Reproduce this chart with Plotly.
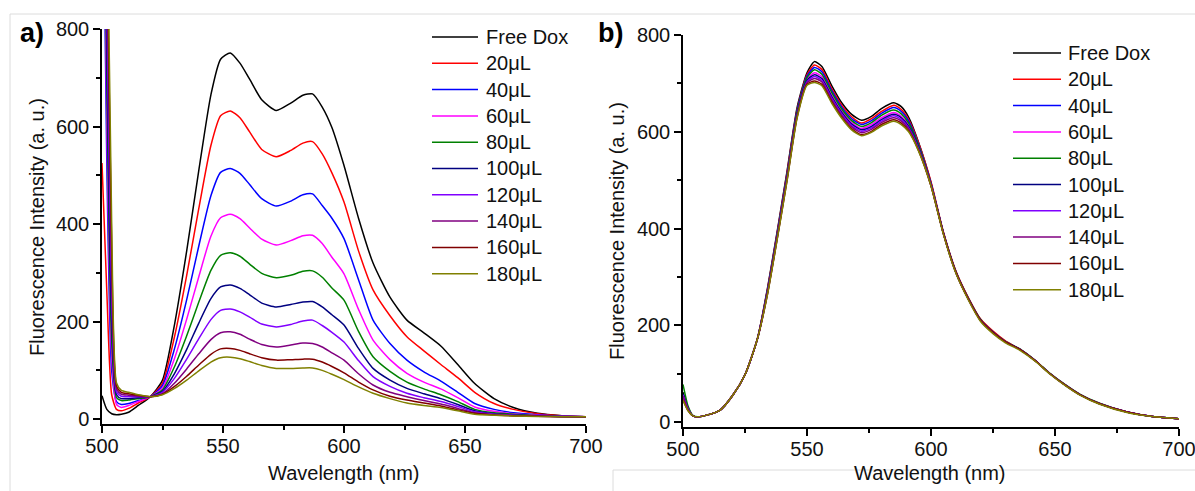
import plotly.graph_objects as go

# ---------------- data: panel a ----------------
WL_A = [500, 502, 504, 506, 508, 511, 515, 520, 525, 530, 535, 540, 545, 549, 553, 557, 561, 566,
        572, 578, 583, 587, 591, 595, 600, 606, 612, 619, 626, 633, 640, 647, 654, 662, 670, 680, 690, 700]

A_FREE = [48, 20, 11, 9, 10, 14, 28, 46, 80, 195, 345, 510, 665, 738, 751, 730, 697, 655,
          633, 648, 664, 667, 640, 598, 520, 412, 320, 250, 203, 177, 150, 112, 73, 42, 24, 12, 7, 5]
A_20 = [525, 260, 50, 20, 17, 22, 33, 46, 74, 170, 295, 432, 561, 622, 632, 618, 589, 553,
        538, 551, 566, 569, 544, 505, 445, 345, 265, 212, 169, 140, 112, 85, 55, 32, 20, 11, 7, 5]
A_40 = [1300, 520, 100, 36, 30, 32, 38, 46, 69, 145, 245, 355, 458, 506, 514, 504, 481, 452,
        437, 447, 460, 462, 438, 412, 370, 286, 203, 155, 121, 97, 78, 55, 32, 20, 13, 9, 6, 5]
A_60 = [1400, 600, 130, 30, 24, 28, 36, 46, 64, 125, 205, 292, 375, 413, 420, 411, 392, 369,
        357, 366, 376, 377, 360, 332, 298, 225, 162, 122, 94, 76, 62, 44, 25, 16, 11, 8, 6, 5]
A_80 = [1500, 680, 160, 44, 38, 39, 42, 46, 60, 108, 171, 240, 305, 336, 341, 334, 318, 299,
        290, 295, 303, 304, 291, 269, 244, 180, 128, 98, 76, 62, 50, 36, 20, 13, 10, 7, 5.5, 5]
A_100 = [1600, 760, 200, 50, 42, 42, 44, 46, 57, 94, 143, 197, 247, 271, 275, 268, 255, 238,
         230, 235, 240, 241, 230, 214, 193, 145, 104, 80, 63, 52, 42, 30, 17, 11, 8.5, 6.5, 5.5, 5]
A_120 = [1700, 850, 250, 56, 47, 46, 46, 46, 55, 84, 123, 165, 204, 223, 226, 220, 209, 195,
         189, 194, 201, 203, 192, 178, 158, 120, 87, 67, 53, 44, 36, 26, 15, 10, 8, 6, 5.5, 5]
A_140 = [1800, 950, 300, 62, 51, 49, 47, 46, 52, 74, 103, 134, 163, 177, 179, 174, 164, 153,
         148, 152, 156, 155, 148, 136, 121, 93, 70, 55, 46, 38, 31, 22, 13, 9, 7, 6, 5, 5]
A_160 = [1900, 1050, 350, 68, 55, 52, 49, 46, 51, 67, 88, 111, 133, 144, 145, 141, 134, 126,
         121, 122, 123, 123, 117, 108, 95, 76, 60, 47, 39, 33, 27, 19, 12, 8.5, 7, 6, 5, 5]
A_180 = [2000, 1150, 400, 74, 59, 55, 50, 46, 50, 63, 80, 99, 117, 126, 127, 124, 118, 110,
         104, 104, 105, 105, 100, 92, 81, 66, 53, 42, 33, 28, 24, 17, 10, 8, 6.5, 5.5, 5, 5]

# ---------------- data: panel b ----------------
WL_B = [500, 502, 504, 506, 510, 515, 520, 525, 530, 534, 538, 542, 546, 550, 553, 556, 560, 564,
        568, 572, 576, 580, 585, 588, 591, 595, 600, 605, 610, 615, 620, 625, 630, 636, 642, 648,
        654, 660, 668, 679, 690, 700]

B_FREE = [62, 30, 13, 11, 15, 25, 55, 98, 172, 275, 395, 520, 650, 722, 745, 735, 695, 660,
          636, 624, 632, 648, 660, 652, 630, 578, 495, 390, 310, 255, 210, 185, 166, 150, 127, 100,
          77, 57, 38, 21, 11, 7]
B_20 = [48, 26, 13, 11, 15, 25, 55, 98, 172, 273, 392, 517, 646, 718, 738, 729, 689, 655,
        631, 618, 627, 642, 655, 646, 625, 577, 497, 393, 313, 258, 213, 188, 168, 150, 127, 100,
        77, 57, 38, 21, 11, 7]
B_40 = [52, 27, 13, 11, 15, 25, 55, 98, 172, 271, 390, 514, 644, 715, 733, 724, 685, 651,
        627, 615, 623, 638, 650, 642, 622, 573, 493, 390, 310, 255, 210, 185, 166, 150, 127, 100,
        77, 57, 38, 21, 11, 7]
B_60 = [50, 26, 13, 11, 15, 25, 55, 98, 172, 268, 386, 509, 638, 708, 722, 714, 676, 643,
        619, 607, 615, 629, 640, 632, 614, 568, 491, 390, 310, 255, 210, 185, 166, 150, 127, 100,
        77, 57, 38, 21, 11, 7]
B_80 = [78, 34, 14, 11, 15, 25, 55, 98, 172, 270, 388, 512, 641, 712, 728, 719, 681, 647,
        623, 611, 619, 634, 645, 637, 618, 571, 492, 391, 312, 257, 212, 186, 167, 151, 128, 101,
        78, 58, 39, 21, 11, 7]
B_100 = [58, 28, 13, 11, 15, 25, 55, 98, 172, 267, 384, 507, 636, 706, 718, 710, 672, 640,
         616, 604, 611, 625, 636, 629, 611, 567, 491, 392, 311, 256, 211, 186, 166, 150, 127, 100,
         77, 57, 38, 21, 11, 7]
B_120 = [56, 28, 13, 11, 15, 25, 55, 98, 172, 266, 383, 506, 634, 703, 714, 706, 669, 637,
         613, 601, 608, 622, 633, 625, 608, 565, 490, 390, 310, 255, 210, 185, 166, 150, 127, 100,
         77, 57, 38, 21, 11, 7]
B_140 = [54, 27, 13, 11, 15, 25, 55, 98, 172, 264, 381, 504, 632, 701, 710, 703, 666, 634,
         610, 598, 605, 619, 629, 622, 606, 563, 489, 390, 310, 255, 210, 185, 166, 150, 127, 100,
         77, 57, 38, 21, 11, 7]
B_160 = [46, 24, 13, 11, 15, 25, 55, 98, 172, 263, 379, 501, 630, 698, 705, 698, 662, 630,
         606, 594, 601, 615, 625, 618, 602, 561, 488, 390, 310, 255, 210, 185, 166, 150, 127, 100,
         77, 57, 38, 21, 11, 7]
B_180 = [45, 24, 13, 11, 15, 25, 55, 98, 172, 262, 378, 500, 628, 696, 702, 695, 659, 628,
         604, 592, 599, 612, 622, 615, 600, 560, 488, 388, 308, 253, 208, 183, 164, 148, 126, 99,
         76, 56, 37, 20, 11, 7]

LABELS = ["Free Dox", "20μL", "40μL", "60μL", "80μL", "100μL", "120μL", "140μL", "160μL", "180μL"]
COLORS = ["#000000", "#FF0000", "#0000FF", "#FF00FF", "#008000", "#000080",
          "#8000FF", "#800080", "#800000", "#808000"]
SERIES_A = [A_FREE, A_20, A_40, A_60, A_80, A_100, A_120, A_140, A_160, A_180]
SERIES_B = [B_FREE, B_20, B_40, B_60, B_80, B_100, B_120, B_140, B_160, B_180]

X_TICKS = [500, 550, 600, 650, 700]
Y_TICKS = [0, 200, 400, 600, 800]

FONT = "Liberation Sans, Arial, sans-serif"
W, H = 1195, 491


def px(x):
    return x / W


def py(y):
    return (H - y) / H


fig = go.Figure()
for name, col, ya in zip(LABELS, COLORS, SERIES_A):
    fig.add_trace(go.Scatter(x=WL_A, y=ya, mode="lines", name=name, showlegend=False,
                             line=dict(color=col, width=1.5, shape="spline", smoothing=0.6),
                             xaxis="x", yaxis="y"))
for name, col, yb in zip(LABELS, COLORS, SERIES_B):
    fig.add_trace(go.Scatter(x=WL_B, y=yb, mode="lines", name=name, showlegend=False,
                             line=dict(color=col, width=1.5, shape="spline", smoothing=0.6),
                             xaxis="x2", yaxis="y2"))

axis_common = dict(showline=True, linecolor="black", linewidth=1.5, ticks="outside", ticklen=7,
                   tickwidth=1.5, tickcolor="black", showgrid=False, zeroline=False, automargin=False,
                   ticklabeloverflow="allow",
                   tickfont=dict(family=FONT, size=20, color="#111"))
xminor = dict(dtick=25, ticks="outside", ticklen=4, tickwidth=1.5, tickcolor="black", showgrid=False)
yminor = dict(dtick=100, ticks="outside", ticklen=4, tickwidth=1.5, tickcolor="black", showgrid=False)

ann_font = dict(family=FONT, size=20, color="#111")


def label(text, x, y, **kw):
    d = dict(text=text, x=px(x), y=py(y), xref="paper", yref="paper", showarrow=False,
             xanchor="center", yanchor="middle", font=ann_font)
    d.update(kw)
    return d


annotations = [
    label("Fluorescence Intensity (a. u.)", 37, 227, textangle=-90),
    label("Fluorescence Intensity (a. u.)", 617, 231, textangle=-90),
    label("Wavelength (nm)", 344, 473),
    label("Wavelength (nm)", 930, 473),
    label("<b>a)</b>", 32, 33, font=dict(family=FONT, size=27, color="black")),
    label("<b>b)</b>", 610, 33, font=dict(family=FONT, size=27, color="black")),
]

shapes = [
    dict(type="line", xref="paper", yref="paper", x0=px(10), x1=1, y0=py(14), y1=py(14),
         line=dict(color="#dcdcdc", width=1)),
    dict(type="line", xref="paper", yref="paper", x0=px(10), x1=px(10), y0=py(14), y1=0,
         line=dict(color="#dcdcdc", width=1)),
    dict(type="line", xref="paper", yref="paper", x0=px(613), x1=1, y0=py(470), y1=py(470),
         line=dict(color="#dcdcdc", width=1)),
    dict(type="line", xref="paper", yref="paper", x0=px(613), x1=px(613), y0=py(470), y1=0,
         line=dict(color="#dcdcdc", width=1)),
]

# legend boxes (one per panel): line sample + label
for (lx0, lx1, tx, ty0) in [(432, 478, 484, 37), (1013, 1061, 1066, 53)]:
    for i, (name, col) in enumerate(zip(LABELS, COLORS)):
        yy = ty0 + i * 26.3
        shapes.append(dict(type="line", xref="paper", yref="paper", x0=px(lx0), x1=px(lx1),
                           y0=py(yy), y1=py(yy), line=dict(color=col, width=1.5)))
        annotations.append(label(name, tx, yy, xanchor="left"))

fig.update_layout(
    width=W, height=H, autosize=False,
    margin=dict(l=0, r=0, t=0, b=0, pad=0),
    paper_bgcolor="white", plot_bgcolor="white",
    showlegend=False,
    xaxis=dict(axis_common, range=[500, 700], tickvals=X_TICKS, minor=xminor, ticklabelstandoff=-4,
               domain=[px(102), px(586)], anchor="y"),
    yaxis=dict(axis_common, range=[-10, 800], tickvals=Y_TICKS, minor=yminor,
               domain=[py(424), py(29)], anchor="x"),
    xaxis2=dict(axis_common, range=[500, 700], tickvals=X_TICKS, minor=xminor, ticklabelstandoff=-4,
                domain=[px(683), px(1179)], anchor="y2"),
    yaxis2=dict(axis_common, range=[-10, 800], tickvals=Y_TICKS, minor=yminor,
                domain=[py(427), py(35)], anchor="x2"),
    annotations=annotations,
    shapes=shapes,
)

fig.write_html("out.html", config={"displayModeBar": False},
               post_script="document.body.style.margin='0';document.body.style.padding='0';"
                           "document.documentElement.style.overflow='hidden';")
